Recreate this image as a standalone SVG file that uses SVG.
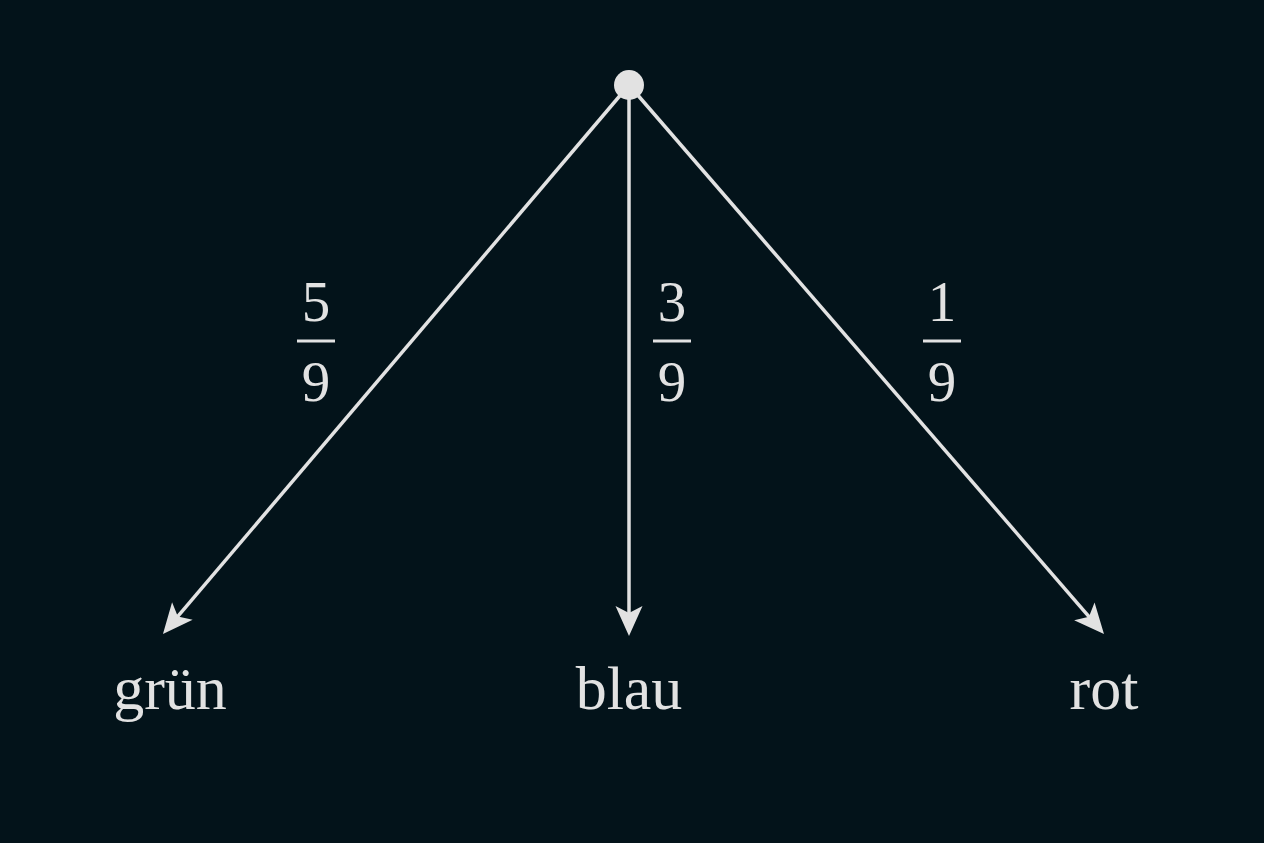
<svg xmlns="http://www.w3.org/2000/svg" width="1264" height="843" viewBox="0 0 1264 843">
<style>
.edge{stroke:#e2e2e2;stroke-width:3.5;fill:none}
.lbl{font-family:"Liberation Serif","DejaVu Serif",serif;fill:#e2e2e2}
.node{font-size:62px;text-anchor:middle}
.frac{font-size:57px;text-anchor:middle}
.bar{stroke:#e2e2e2;stroke-width:3}
</style>
<defs>
<marker id="ah" markerUnits="userSpaceOnUse" orient="auto" markerWidth="60" markerHeight="60" viewBox="-30 -30 60 60" refX="0" refY="0">
<path d="M20,0 L-10,-13.5 L-3,0 L-10,13.5 Z" fill="#e2e2e2"/>
</marker>
</defs>
<rect width="1264" height="843" fill="#03131a"/>
<g id="connectors">
<line class="edge" x1="629" y1="85" x2="175.9" y2="618.7" marker-end="url(#ah)"/>
<line class="edge" x1="629" y1="85" x2="629" y2="616" marker-end="url(#ah)"/>
<line class="edge" x1="629" y1="85" x2="1090.9" y2="618.9" marker-end="url(#ah)"/>
</g>
<g id="root"><circle cx="629" cy="85" r="15" fill="#e2e2e2"/></g>
<g id="gruen"><text class="lbl node" x="170" y="709">grün</text></g>
<g id="blau"><text class="lbl node" x="629" y="709">blau</text></g>
<g id="rot"><text class="lbl node" x="1104" y="709">rot</text></g>
<g id="label-gruen">
<text class="lbl frac" x="316" y="321">5</text>
<line class="bar" x1="297" y1="341" x2="335" y2="341"/>
<text class="lbl frac" x="316" y="401">9</text>
</g>
<g id="label-blau">
<text class="lbl frac" x="672" y="321">3</text>
<line class="bar" x1="653" y1="341" x2="691" y2="341"/>
<text class="lbl frac" x="672" y="401">9</text>
</g>
<g id="label-rot">
<text class="lbl frac" x="942" y="321">1</text>
<line class="bar" x1="923" y1="341" x2="961" y2="341"/>
<text class="lbl frac" x="942" y="401">9</text>
</g>
</svg>
